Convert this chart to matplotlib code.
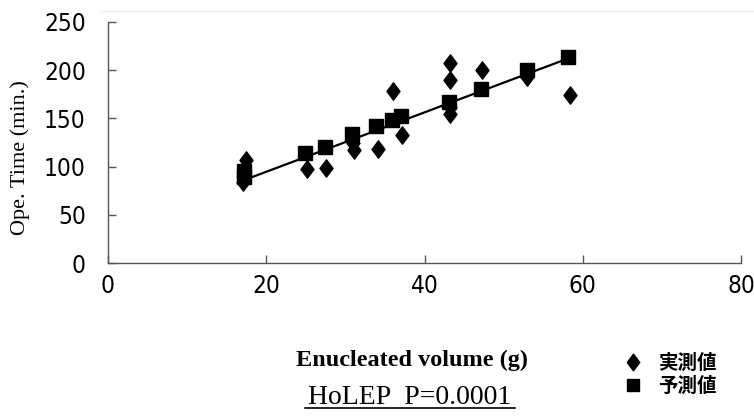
import matplotlib
matplotlib.use("Agg")
import matplotlib.pyplot as plt
from matplotlib.path import Path
from matplotlib.lines import Line2D
import numpy as np

# measured (実測値)
meas_x = [17.1, 17.5, 17.2, 25.1, 27.6, 31.1, 31.0, 34.1, 36.0, 37.1, 43.2, 43.2, 43.2, 43.2, 47.3, 53.0, 58.4]
meas_y = [84, 107, 90, 98, 99, 117, 125, 118, 178, 133, 207, 190, 155, 162, 200, 193, 174]
# predicted (予測値)
pred_x = [17.2, 17.2, 24.9, 27.4, 30.9, 33.9, 35.9, 37.0, 43.1, 47.1, 52.9, 58.1]
pred_y = [89, 95, 114, 120, 134, 142, 148, 152, 167, 180, 200, 214]

x_ticks = [0, 20, 40, 60, 80]
y_ticks = [0, 50, 100, 150, 200, 250]

xlabel = "Enucleated volume (g)"
ylabel = "Ope. Time (min.)"
title = "HoLEP  P=0.0001"
legend_labels = ["実測値", "予測値"]

diamond = Path([(0, 1), (0.75, 0), (0, -1), (-0.75, 0), (0, 1)],
               [Path.MOVETO, Path.LINETO, Path.LINETO, Path.LINETO, Path.CLOSEPOLY])

fig = plt.figure(figsize=(7.54, 4.19), dpi=100)
ax = fig.add_axes([0.1432, 0.3723, 0.9828 - 0.1432, 0.9475 - 0.3723])

order = np.argsort(pred_x)
px = np.array(pred_x)[order]
py = np.array(pred_y)[order]
ax.plot([px[0], px[-1]], [py[0] - 3, py[-1] - 2], color="black", lw=1.6, zorder=2)
ax.plot(meas_x, meas_y, linestyle="none", marker=diamond, markersize=12.5,
        color="black", zorder=3)
ax.plot(pred_x, pred_y, linestyle="none", marker="s", markersize=10,
        color="black", zorder=3)

ax.set_xlim(0, 80)
ax.set_ylim(0, 250)
ax.set_xticks(x_ticks)
ax.set_yticks(y_ticks)
for s in ["top", "right"]:
    ax.spines[s].set_visible(False)
for s in ["left", "bottom"]:
    ax.spines[s].set_color("#555555")
    ax.spines[s].set_linewidth(1.0)
ax.tick_params(direction="in", length=6, width=1, color="#555555",
               labelsize=17.5)
ax.tick_params(axis="y", pad=16)
ax.tick_params(axis="x", pad=8)
for lab in ax.get_xticklabels() + ax.get_yticklabels():
    lab.set_fontfamily("DejaVu Sans")
    lab.set_fontstretch("condensed")

fig.add_artist(Line2D([100 / 754, 754 / 754], [1 - 11 / 419, 1 - 11 / 419],
                      color="#f0f0f0", lw=1.0))

fig.text(0.027, 1 - 158 / 419, ylabel, rotation=90,
         ha="center", va="center", family="Liberation Serif", fontsize=16)
fig.text(412 / 754, 1 - 360 / 419, xlabel, ha="center", va="center",
         family="Liberation Serif", fontsize=17.5, fontweight="bold")
fig.text(410 / 754, 1 - 397 / 419, title, ha="center", va="center",
         family="Liberation Serif", fontsize=20)
fig.add_artist(Line2D([305 / 754, 515 / 754], [1 - 408 / 419, 1 - 408 / 419],
                      color="black", lw=1.2))

handles = [Line2D([], [], linestyle="none", marker=diamond, markersize=12, color="black"),
           Line2D([], [], linestyle="none", marker="s", markersize=9, color="black")]
leg = fig.legend(handles, legend_labels, loc="center left",
                 bbox_to_anchor=(604 / 754, 1 - 375 / 419), frameon=False,
                 prop={"family": ["Noto Sans CJK JP", "DejaVu Sans"], "weight": "bold", "size": 14},
                 handletextpad=0.7, labelspacing=0.2, handlelength=1.2)

fig.savefig("out.png", dpi=100)
